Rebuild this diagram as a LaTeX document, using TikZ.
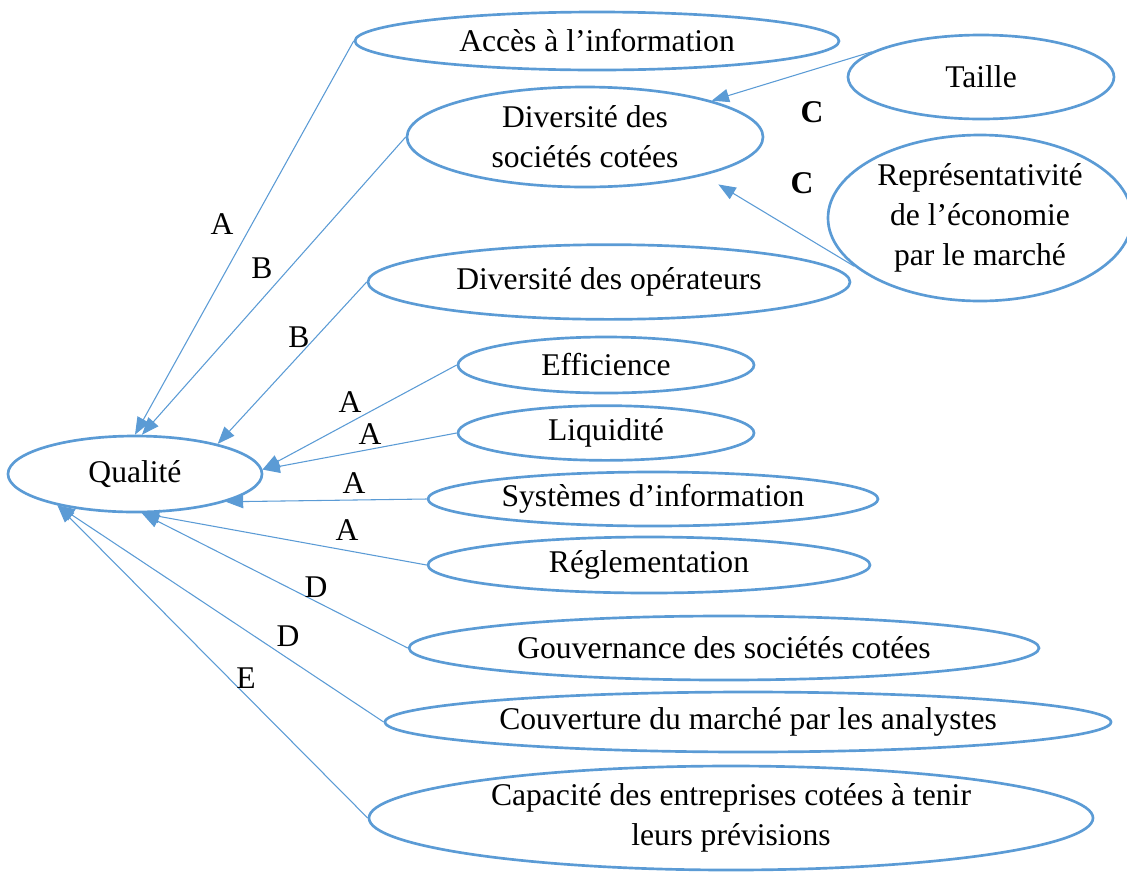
\documentclass[tikz,border=0pt]{standalone}
\usepackage{fontspec}
\setmainfont{Liberation Serif}
\usetikzlibrary{shapes.geometric,arrows.meta}
\definecolor{azul}{RGB}{91,155,213}
\tikzset{
  elipse/.style={ellipse, draw=azul, line width=2pt, inner sep=0pt, align=center},
  flecha/.style={draw=azul, line width=0.8pt, -{Triangle[length=13pt,width=10pt]}}
}
\begin{document}
\begin{tikzpicture}[x=0.75pt, y=-0.75pt, font=\fontsize{23.7}{30}\selectfont]
\useasboundingbox (0,0) rectangle (1127,872);

\node[elipse, minimum width=190.5pt, minimum height=57pt] (qualite) at (135,474) {Qualité};

% Facteurs
\node[elipse, minimum width=363pt, minimum height=43.5pt] (acces) at (597,41) {Accès à l’information};
\node[elipse, minimum width=267pt, minimum height=75pt] (divsoc) at (585,137) {Diversité des\\sociétés cotées};
\node[elipse, minimum width=199.5pt, minimum height=63pt] (taille) at (981,77) {Taille};
\node[elipse, minimum width=228pt, minimum height=124.5pt] (repres) at (980,218) {Représentativité\\de l’économie\\par le marché};
\node[elipse, minimum width=361.5pt, minimum height=56pt] (divop) at (609,282) {Diversité des opérateurs};
\node[elipse, minimum width=222pt, minimum height=42pt] (effic) at (606,365) {Efficience};
\node[elipse, minimum width=222pt, minimum height=41pt] (liquid) at (606,433) {Liquidité};
\node[elipse, minimum width=337.5pt, minimum height=40.5pt] (sysinf) at (653,499) {Systèmes d’information};
\node[elipse, minimum width=331.5pt, minimum height=42pt] (regl) at (649,565) {Réglementation};
\node[elipse, minimum width=472.5pt, minimum height=48pt] (gouv) at (724,648) {Gouvernance des sociétés cotées};
\node[elipse, minimum width=544.5pt, minimum height=45pt] (couv) at (748,722) {Couverture du marché par les analystes};
\node[elipse, minimum width=543pt, minimum height=78pt] (capac) at (731,818) {Capacité des entreprises cotées à tenir\\leurs prévisions};

% Flèches
\foreach \a/\b in {acces.west/qualite.90, divsoc.west/qualite.80, divop.west/qualite.20,
    effic.west/qualite.2, liquid.west/qualite.2, sysinf.west/qualite.-17,
    regl.west/qualite.-80, gouv.west/qualite.-80, couv.west/qualite.-158, capac.west/qualite.-158}
  \draw[flecha] (\a) -- (\b);

\draw[flecha] (taille.167) -- (divsoc.16);
\draw[flecha, shorten >=13pt] (repres.-159) -- (divsoc.-18);

% Lettres
\foreach \x/\y/\t [count=\i] in {222/224/A, 262/268/B, 299/337/B, 350/402/A, 370/434/A,
    354/483/A, 347/530/A, 316/587/D, 288/636/D, 246/678/E}
  \node (et\i) at (\x,\y) {\t};

\node[font=\fontsize{23.7}{30}\selectfont\bfseries] (etC1) at (812,112) {C};
\node[font=\fontsize{23.7}{30}\selectfont\bfseries] (etC2) at (802,183) {C};
\end{tikzpicture}
\end{document}
